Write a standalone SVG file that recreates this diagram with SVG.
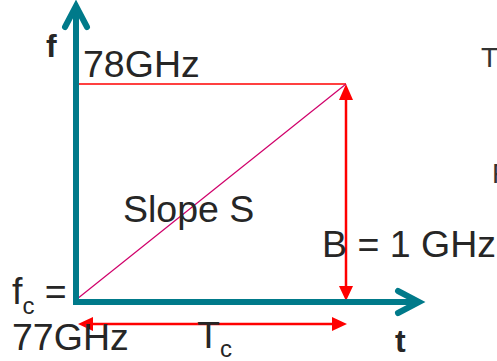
<svg xmlns="http://www.w3.org/2000/svg" width="497" height="361" viewBox="0 0 497 361">
<style>
.axis{fill:none;stroke:#007A8A;stroke-width:6}
.chev{fill:none;stroke:#007A8A;stroke-width:6;stroke-linecap:round;stroke-linejoin:miter}
.red{fill:none;stroke:#FF0000}
.head{fill:#FF0000}
.t{font-family:"Liberation Sans",Arial,sans-serif;fill:#262626}
.big{font-size:37.5px}
.sub{font-size:24px}
.bold{font-weight:bold}
.side{font-size:28px;fill:#333}
</style>
<rect width="497" height="361" fill="#fff"/>
<g id="connectors">
  <line class="red" x1="76" y1="84" x2="346" y2="84" stroke-width="1.5"/>
  <line x1="77" y1="299" x2="346" y2="84" stroke="#D0006A" stroke-width="1.2"/>
  <line class="red" x1="346" y1="99" x2="346" y2="287" stroke-width="2.5"/>
  <polygon class="head" points="346,84 339,100 353,100"/>
  <polygon class="head" points="346,301 339,286 353,286"/>
  <line class="red" x1="92" y1="324" x2="333" y2="324" stroke-width="2.5"/>
  <polygon class="head" points="78,324 93,317 93,331"/>
  <polygon class="head" points="347,324 332,317 332,331"/>
</g>
<g id="axes">
  <path class="axis" d="M76,8 L76,302 L418,302"/>
  <path class="chev" d="M65,27 L76,6 L87,27"/>
  <path class="chev" d="M398,291 L419,302 L398,313"/>
</g>
<g id="labels">
  <text class="t bold" x="46" y="57" font-size="32">f</text>
  <text class="t bold" x="395" y="352" font-size="32">t</text>
  <text class="t big" x="83" y="77">78GHz</text>
  <text class="t big" x="123" y="222">Slope S</text>
  <text class="t big" x="322" y="257">B = 1 GHz</text>
  <text class="t big" x="12" y="304">f<tspan class="sub" dy="10">c</tspan><tspan dy="-10"> =</tspan></text>
  <text class="t big" x="12" y="350">77GHz</text>
  <text class="t big" x="197" y="348">T<tspan class="sub" dy="9">c</tspan></text>
  <text class="t side" x="481" y="67">T</text>
  <text class="t side" x="492" y="183">F</text>
</g>
</svg>
